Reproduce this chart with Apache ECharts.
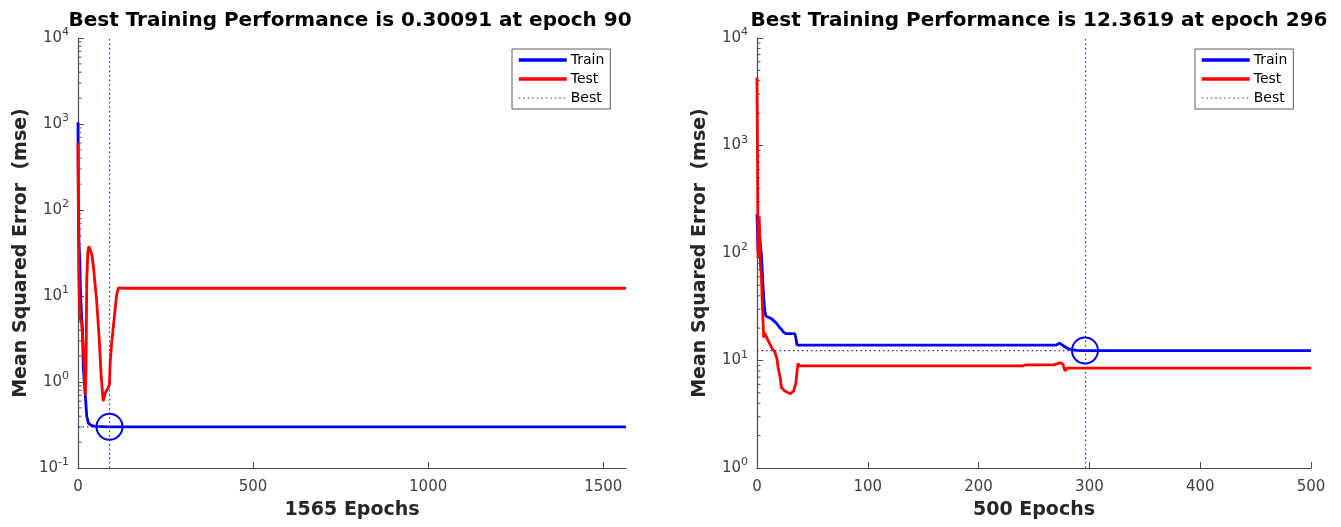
<!DOCTYPE html>
<html><head><meta charset="utf-8">
<script src="https://cdn.jsdelivr.net/npm/echarts@6/dist/echarts.min.js"></script>
<style>html,body{margin:0;padding:0;background:#fff}#c{width:1341px;height:527px}</style>
</head><body><div id="c"></div>
<script>
// ---- Data ----
const titleA = 'Best Training Performance is 0.30091 at epoch 90';
const titleB = 'Best Training Performance is 12.3619 at epoch 296';
const xNameA = '1565 Epochs';
const xNameB = '500 Epochs';
const yName = 'Mean Squared Error  (mse)';
const legendNames = ['Train', 'Test', 'Best'];

const maxEpochA = 1565;
const maxEpochB = 500;
const xTicksA = [0, 500, 1000, 1500];
const xTicksB = [0, 100, 200, 300, 400, 500];
const yMinA = 0.1, yMaxA = 10000;
const yMinB = 1, yMaxB = 10000;

const bestEpochA = 90, bestPerfA = 0.30091;
const bestEpochB = 296, bestPerfB = 12.3619;

const trainEpochsA = [0, 1, 3, 5, 7, 10, 13, 15, 18, 22, 25, 30, 40, 50, 90, 1565];
const trainValuesA = [1050, 150, 40, 27, 12, 6, 4, 1.5, 1.0, 0.6, 0.4, 0.33, 0.31, 0.305, 0.30091, 0.30091];
const testEpochsA = [0, 1, 2, 4, 6, 10, 14, 18, 21, 23, 25, 28, 31, 35, 40, 45, 53, 60, 66, 72, 78, 86, 90, 92, 96, 100, 106, 110, 115, 120, 130, 1565];
const testValuesA = [600, 100, 20, 8, 5.5, 5, 3, 1.5, 0.7, 1.5, 15, 32, 38, 38, 30, 20, 9, 3.5, 1.2, 0.6, 0.75, 0.85, 0.95, 1.7, 2.8, 4, 7, 10, 12.4, 12.8, 12.3, 12.3];

const trainEpochsB = [0, 1, 2, 3, 4, 5, 6, 7, 8, 9, 13, 16, 18, 20, 22, 24, 26, 34, 35, 36, 38, 270, 273, 276, 280, 284, 288, 296, 500];
const trainValuesB = [230, 100, 160, 160, 95, 60, 39, 29, 26, 25, 24.5, 23, 22, 20.5, 19.5, 18.3, 17.8, 17.8, 16.5, 14, 13.9, 13.9, 14.5, 13.8, 13, 12.6, 12.4, 12.3619, 12.3619];
const testEpochsB = [0, 1, 2, 3, 4, 5, 6, 7, 10, 13, 16, 18, 19, 21, 22, 25, 30, 33, 35, 36, 37, 38, 240, 242, 268, 273, 276, 278, 280, 500];
const testValuesB = [4300, 90, 220, 80, 60, 30, 16.4, 18, 15.4, 13.3, 12, 10.4, 8.6, 6.9, 5.6, 5.2, 4.9, 5.2, 6.1, 7.6, 9.4, 8.9, 8.9, 9.1, 9.1, 9.5, 9.3, 8.0, 8.5, 8.5];

// ---- Helpers ----
const zip = (xs, ys) => xs.map((x, i) => [x, ys[i]]);
function minorVals(lo, hi) {
  const out = [];
  for (let k = Math.round(Math.log10(lo)); k < Math.round(Math.log10(hi)); k++) {
    for (let m = 2; m <= 9; m++) out.push(m * Math.pow(10, k));
  }
  return out;
}
const FONT = 'DejaVu Sans';
const AXIS_COLOR = '#4d4d4d';
const LABEL_COLOR = '#404040';
const BLUE = '#0000ff', RED = '#ff0000', DOT = '#2020ff';
const DOTTYPE = [1.5, 3];

function xAxisCfg(gi, max, ticks, name) {
  return {
    type: 'value', gridIndex: gi, min: 0, max: max,
    name: name, nameLocation: 'middle', nameGap: 33,
    nameTextStyle: { fontFamily: FONT, fontSize: 19, fontWeight: 'bold', color: '#262626' },
    axisLine: { lineStyle: { color: AXIS_COLOR, width: 1.2 } },
    axisTick: { inside: true, length: 6, lineStyle: { color: AXIS_COLOR }, customValues: ticks },
    axisLabel: { fontFamily: FONT, fontSize: 15, color: LABEL_COLOR, margin: 12, customValues: ticks,
      formatter: v => String(v) },
    splitLine: { show: false }
  };
}
function yAxisCfg(gi, min, max) {
  return {
    type: 'log', logBase: 10, gridIndex: gi, min: min, max: max,
    name: yName, nameLocation: 'middle', nameGap: 47,
    nameTextStyle: { fontFamily: FONT, fontSize: 19, fontWeight: 'bold', color: '#262626' },
    axisLine: { show: true, lineStyle: { color: AXIS_COLOR, width: 1.2 } },
    axisTick: { inside: true, length: 6, lineStyle: { color: AXIS_COLOR } },
    axisLabel: {
      fontFamily: FONT, color: LABEL_COLOR, margin: 9,
      formatter: v => '{b|10}{s|' + Math.round(Math.log10(v)) + '}',
      rich: {
        b: { fontFamily: FONT, fontSize: 15, color: LABEL_COLOR },
        s: { fontFamily: FONT, fontSize: 11, color: LABEL_COLOR, padding: [0, 0, 11, 0] }
      }
    },
    splitLine: { show: false }
  };
}
function seriesFor(gi, trE, trV, teE, teV, bestE, bestP, yMin, yMax) {
  return [
    { name: 'Train', type: 'line', xAxisIndex: gi, yAxisIndex: gi, data: zip(trE, trV),
      symbol: 'none', lineStyle: { color: BLUE, width: 2.8 }, itemStyle: { color: BLUE }, z: 3 },
    { name: 'Test', type: 'line', xAxisIndex: gi, yAxisIndex: gi, data: zip(teE, teV),
      symbol: 'none', lineStyle: { color: RED, width: 2.8 }, itemStyle: { color: RED }, z: 4 },
    { name: 'Best', type: 'line', xAxisIndex: gi, yAxisIndex: gi, data: [[0, bestP], [bestE, bestP]],
      symbol: 'none', lineStyle: { color: DOT, width: 1.2, type: DOTTYPE }, itemStyle: { color: DOT }, z: 2,
      markLine: { silent: true, symbol: 'none', label: { show: false },
        lineStyle: { color: DOT, width: 1.2, type: DOTTYPE, opacity: 1 },
        emphasis: { disabled: true },
        data: [[{ coord: [bestE, yMin] }, { coord: [bestE, yMax] }]] } },
    { name: 'BestPoint', type: 'scatter', xAxisIndex: gi, yAxisIndex: gi, data: [[bestE, bestP]],
      symbol: 'circle', symbolSize: 26, silent: true, z: 5,
      itemStyle: { color: 'rgba(0,0,0,0)', borderColor: BLUE, borderWidth: 2, opacity: 1 } },
    { name: 'minor', type: 'scatter', xAxisIndex: gi, yAxisIndex: gi,
      data: minorVals(yMin, yMax).map(v => [0, v]), symbol: 'rect', symbolSize: [3, 1],
      symbolOffset: [2, 0], silent: true, clip: false, z: 6, itemStyle: { color: AXIS_COLOR, opacity: 1 } }
  ];
}
function legendCfg(left) {
  return {
    data: [
      { name: legendNames[0], lineStyle: { width: 3.5 } },
      { name: legendNames[1], lineStyle: { width: 3.5 } },
      { name: legendNames[2], lineStyle: { width: 1.2 } }
    ],
    orient: 'vertical', left: left, top: 49,
    itemWidth: 48, itemHeight: 14, itemGap: 5, padding: [4, 6, 4, 5],
    backgroundColor: '#fff', borderColor: '#333', borderWidth: 0.8, borderRadius: 0,
    selectedMode: false,
    itemStyle: { opacity: 0 },
    textStyle: { fontFamily: FONT, fontSize: 14, color: '#000', padding: [0, 0, 0, -1] }
  };
}

const chart = echarts.init(document.getElementById('c'), null, { renderer: 'canvas' });
chart.setOption({
  animation: false,
  backgroundColor: '#fff',
  title: [
    { text: titleA, left: 345, top: 6, textAlign: 'center',
      textStyle: { fontFamily: FONT, fontSize: 20, fontWeight: 'bold', color: '#000' } },
    { text: titleB, left: 1034, top: 6, textAlign: 'center',
      textStyle: { fontFamily: FONT, fontSize: 20, fontWeight: 'bold', color: '#000' } }
  ],
  legend: [legendCfg(512), legendCfg(1195)],
  grid: [
    { left: 78, width: 548, top: 38, bottom: 59 },
    { left: 757, width: 554, top: 38, bottom: 59 }
  ],
  xAxis: [xAxisCfg(0, maxEpochA, xTicksA, xNameA), xAxisCfg(1, maxEpochB, xTicksB, xNameB)],
  yAxis: [yAxisCfg(0, yMinA, yMaxA), yAxisCfg(1, yMinB, yMaxB)],
  series: [
    ...seriesFor(0, trainEpochsA, trainValuesA, testEpochsA, testValuesA, bestEpochA, bestPerfA, yMinA, yMaxA),
    ...seriesFor(1, trainEpochsB, trainValuesB, testEpochsB, testValuesB, bestEpochB, bestPerfB, yMinB, yMaxB)
  ]
});
</script></body></html>
